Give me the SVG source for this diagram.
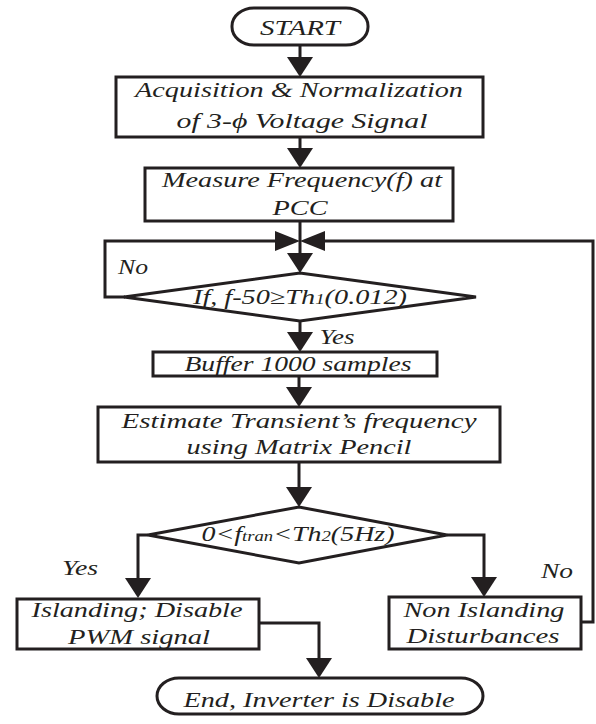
<svg xmlns="http://www.w3.org/2000/svg" width="596" height="724" viewBox="0 0 596 724">
<style>
.n{fill:#fff;stroke:#231f20;stroke-width:3}
.c{fill:none;stroke:#231f20;stroke-width:3}
text{font-family:"Liberation Serif","Times New Roman",serif;font-style:italic;font-size:21px;fill:#231f20;text-anchor:middle}
.s{font-size:14px}
</style>
<defs>
<marker id="av" markerUnits="userSpaceOnUse" markerWidth="20" markerHeight="26" viewBox="0 0 20 26" refX="10" refY="13" orient="auto"><path d="M0,0 L20,13 L0,26 z" fill="#231f20"/></marker>
<marker id="ah" markerUnits="userSpaceOnUse" markerWidth="25" markerHeight="20" viewBox="0 0 25 20" refX="15" refY="10" orient="auto"><path d="M0,0 L25,10 L0,20 z" fill="#231f20"/></marker>
</defs>
<g id="connectors">
<path class="c" d="M300,45 V67" marker-end="url(#av)"/>
<path class="c" d="M300,137 V158" marker-end="url(#av)"/>
<path class="c" d="M300,221 V263" marker-end="url(#av)"/>
<path class="c" d="M125,297 H105 V241 H290" marker-end="url(#ah)"/>
<path class="c" d="M581,622 H593 V241 H310" marker-end="url(#ah)"/>
<path class="c" d="M300,320 V342" marker-end="url(#av)"/>
<path class="c" d="M299,376 V397" marker-end="url(#av)"/>
<path class="c" d="M299,462 V497" marker-end="url(#av)"/>
<path class="c" d="M148,535 H138 V588" marker-end="url(#av)"/>
<path class="c" d="M447,535 H484 V587" marker-end="url(#av)"/>
<path class="c" d="M259,623 H319 V668" marker-end="url(#av)"/>
<text x="133" y="274" textLength="30" lengthAdjust="spacingAndGlyphs">No</text>
<text x="337" y="344" textLength="35" lengthAdjust="spacingAndGlyphs">Yes</text>
<text x="80" y="575" textLength="36" lengthAdjust="spacingAndGlyphs">Yes</text>
<text x="557" y="578" textLength="32" lengthAdjust="spacingAndGlyphs">No</text>
</g>
<g id="start">
<rect class="n" x="232" y="8" width="136" height="37" rx="22" ry="18"/>
<text x="300" y="35" textLength="80" lengthAdjust="spacingAndGlyphs">START</text>
</g>
<g id="acquisition">
<rect class="n" x="116" y="77" width="367" height="60"/>
<text x="299" y="97" textLength="328" lengthAdjust="spacingAndGlyphs">Acquisition &amp; Normalization</text>
<text x="302" y="128" textLength="251" lengthAdjust="spacingAndGlyphs">of 3-ϕ Voltage Signal</text>
</g>
<g id="measure">
<rect class="n" x="145" y="168" width="308" height="53"/>
<text x="302" y="187" textLength="280" lengthAdjust="spacingAndGlyphs">Measure Frequency(f) at</text>
<text x="300" y="215" textLength="55" lengthAdjust="spacingAndGlyphs">PCC</text>
</g>
<g id="decision1">
<polygon class="n" points="124,297 300,273 476,297 300,321"/>
<text x="300" y="304" textLength="214" lengthAdjust="spacingAndGlyphs">If, f-50≥Th<tspan class="s">1</tspan>(0.012)</text>
</g>
<g id="buffer">
<rect class="n" x="153" y="352" width="284" height="24"/>
<text x="298" y="371" textLength="227" lengthAdjust="spacingAndGlyphs">Buffer 1000 samples</text>
</g>
<g id="estimate">
<rect class="n" x="98" y="407" width="402" height="55"/>
<text x="299" y="428" textLength="355" lengthAdjust="spacingAndGlyphs">Estimate Transient’s frequency</text>
<text x="299" y="454" textLength="225" lengthAdjust="spacingAndGlyphs">using Matrix Pencil</text>
</g>
<g id="decision2">
<polygon class="n" points="148,535 299,507 447,535 299,563"/>
<text x="298" y="541" textLength="193" lengthAdjust="spacingAndGlyphs">0&lt;f<tspan class="s">tran</tspan>&lt;Th<tspan class="s">2</tspan>(5Hz)</text>
</g>
<g id="islanding">
<rect class="n" x="17" y="599" width="242" height="50"/>
<text x="137" y="617" textLength="211" lengthAdjust="spacingAndGlyphs">Islanding; Disable</text>
<text x="139" y="644" textLength="142" lengthAdjust="spacingAndGlyphs">PWM signal</text>
</g>
<g id="nonislanding">
<rect class="n" x="389" y="597" width="192" height="52"/>
<text x="484" y="617" textLength="161" lengthAdjust="spacingAndGlyphs">Non Islanding</text>
<text x="483" y="643" textLength="153" lengthAdjust="spacingAndGlyphs">Disturbances</text>
</g>
<g id="end">
<rect class="n" x="157" y="678" width="326" height="36" rx="22" ry="18"/>
<text x="319" y="707" textLength="271" lengthAdjust="spacingAndGlyphs">End, Inverter is Disable</text>
</g>
</svg>
